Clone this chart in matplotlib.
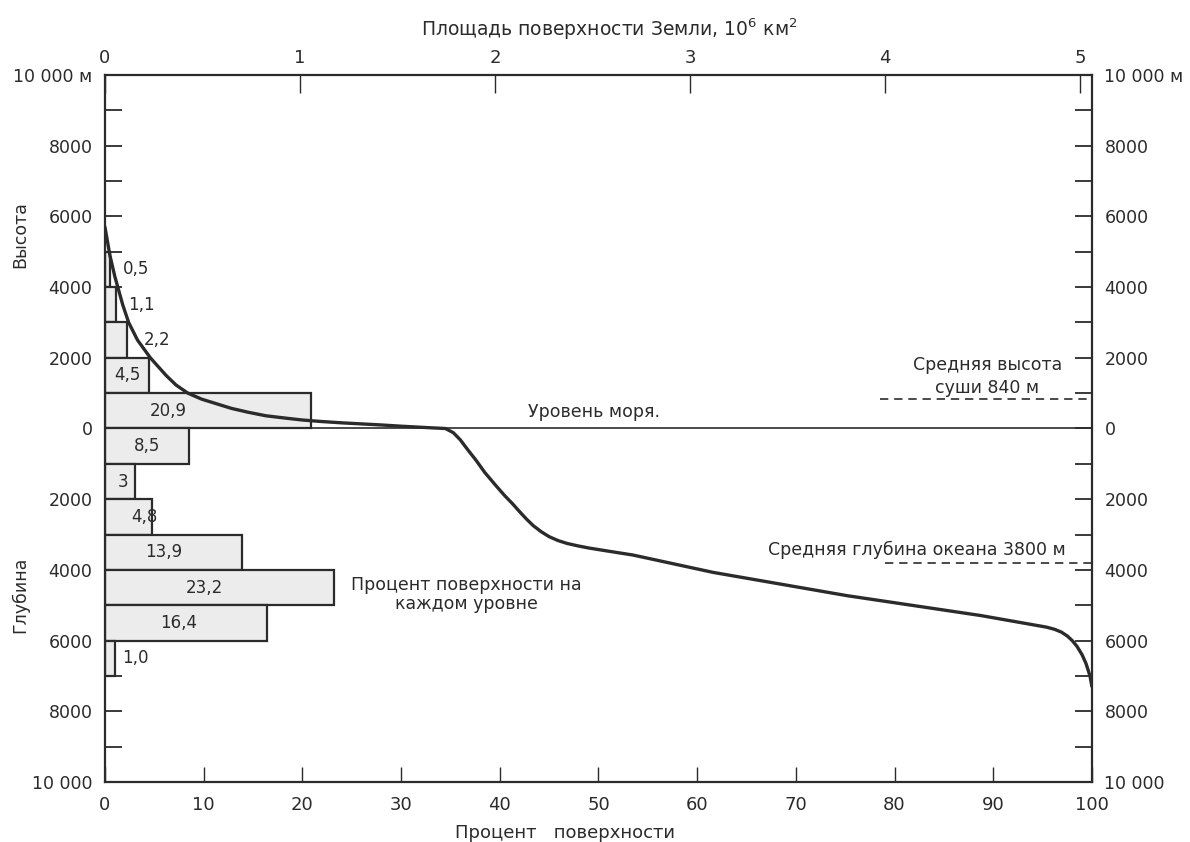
import matplotlib
matplotlib.use('Agg')
import matplotlib.pyplot as plt
from matplotlib.ticker import MultipleLocator, FixedLocator, FuncFormatter

# percent of surface in each 1000 m band (band lower edge, m)
band_bottom = [4000, 3000, 2000, 1000, 0, -1000, -2000, -3000, -4000, -5000, -6000, -7000]
band_pct = [0.5, 1.1, 2.2, 4.5, 20.9, 8.5, 3.0, 4.8, 13.9, 23.2, 16.4, 1.0]
band_text = ['0,5', '1,1', '2,2', '4,5', '20,9', '8,5', '3', '4,8', '13,9', '23,2', '16,4', '1,0']

# hypsographic curve: cumulative percent of surface vs elevation (m)
curve_pct = [0.0, 0.5, 1.0, 1.3, 1.8, 2.4, 3.3, 4.6, 5.3, 6.2, 7.2, 8.4, 9.8, 11.3, 12.8,
             14.5, 16.3, 18.4, 20.0, 21.8, 24.0, 26.0, 28.0, 30.0, 33.0, 34.5,
             35.3, 36.0, 36.7, 37.6, 38.5, 39.5, 40.5, 41.3,
             42.0, 42.7, 43.4, 44.2, 45.0, 45.9, 46.8, 47.9, 49.0, 51.0, 53.5, 61.6,
             75.2, 88.7, 95.4, 96.2, 96.9, 97.5, 98.0, 98.5, 99.0, 99.4, 99.8, 100.0]
curve_elev = [5700, 4900, 4300, 4000, 3500, 3000, 2500, 2000, 1780, 1500, 1230, 1000, 830, 700, 570,
              460, 360, 290, 240, 200, 160, 130, 100, 65, 20, 0,
              -120, -320, -580, -900, -1250, -1580, -1900, -2130,
              -2350, -2560, -2750, -2920, -3060, -3170, -3250, -3320, -3380, -3470, -3580, -4070,
              -4730, -5290, -5620, -5680, -5760, -5870, -6000, -6170, -6400, -6650, -7000, -7300]

mean_land = 840
mean_ocean = -3800
earth_area = 5.06  # top scale value at 100 %

top_ticks = [0, 1, 2, 3, 4, 5]
bottom_ticks = [0, 10, 20, 30, 40, 50, 60, 70, 80, 90, 100]

ink = '#2b2b2b'
plt.rcParams['font.family'] = ['DejaVu Sans']
plt.rcParams['text.color'] = ink
plt.rcParams['mathtext.default'] = 'regular'

fig = plt.figure(figsize=(11.9, 8.42), dpi=100)
ax = fig.add_axes([0.0882, 0.0713, 0.8294, 0.8396])

# bars
ax.barh([b + 500 for b in band_bottom], band_pct, height=1000, left=0,
        color='#ececec', edgecolor=ink, linewidth=1.6, zorder=2)

# bar labels (x position in % chosen per bar, outside for the narrow ones)
label_x = [1.8, 2.3, 3.9, 2.3, 6.4, 4.3, 1.8, 4.0, 5.9, 10.1, 7.5, 1.7]
label_out = [True, True, True, False, False, False, False, False, False, False, False, True]
for b, t, lx, out in zip(band_bottom, band_text, label_x, label_out):
    ax.text(lx, b + 500, t, fontsize=12, ha='left' if out else 'center', va='center',
            color=ink, zorder=4)

# sea level
ax.plot([0, 100], [0, 0], color=ink, lw=1.2, zorder=3)
ax.text(49.5, 480, 'Уровень моря.', fontsize=12.5, ha='center', va='center')

# curve
ax.plot(curve_pct, curve_elev, color=ink, lw=2.4, zorder=5, solid_capstyle='round',
        solid_joinstyle='round')

# mean levels
ax.plot([78.5, 100], [mean_land, mean_land], color=ink, lw=1.2, ls=(0, (5, 3.5)))
ax.text(89.4, 1480, 'Средняя высота\nсуши 840 м', fontsize=12.5, ha='center', va='center',
        linespacing=1.35)
ax.plot([79, 100], [mean_ocean, mean_ocean], color=ink, lw=1.2, ls=(0, (5, 3.5)))
ax.text(82.3, -3430, 'Средняя глубина океана 3800 м', fontsize=12.5, ha='center', va='center')

ax.text(36.6, -4700, 'Процент поверхности на\nкаждом уровне', fontsize=12.5,
        ha='center', va='center', linespacing=1.1)

# axes
ax.set_xlim(0, 100)
ax.set_ylim(-10000, 10000)
for s in ax.spines.values():
    s.set_linewidth(1.6)
    s.set_color(ink)


def elev_fmt(v, pos):
    if v >= 10000:
        return '10 000 м'
    if v <= -10000:
        return '10 000'
    return str(abs(int(round(v))))


ax.yaxis.set_major_locator(MultipleLocator(2000))
ax.yaxis.set_minor_locator(MultipleLocator(1000))
ax.yaxis.set_major_formatter(FuncFormatter(elev_fmt))
ax.tick_params(axis='y', which='both', direction='in', length=12, width=1.3,
               left=True, right=True, labelleft=True, labelright=True,
               labelsize=12.5, colors=ink, pad=9)

ax.xaxis.set_major_locator(FixedLocator(bottom_ticks))
ax.tick_params(axis='x', which='both', direction='in', length=11, width=1.0,
               top=False, labelsize=13, colors=ink, pad=10)

top = ax.secondary_xaxis('top', functions=(lambda x: x * earth_area / 100,
                                            lambda a: a * 100 / earth_area))
top.set_xticks(top_ticks)
top.tick_params(direction='in', length=13, width=1.0, labelsize=13, colors=ink, pad=6)
top.spines['top'].set_visible(False)

fig.text(0.512, 0.965, 'Площадь поверхности Земли, 10$^6$ км$^2$', fontsize=13.5,
         ha='center', va='center')
fig.text(0.475, 0.011, 'Процент   поверхности', fontsize=13, ha='center', va='center')
fig.text(0.017, 1 - 235 / 842, 'Высота', fontsize=12.5, rotation=90, ha='center', va='center')
fig.text(0.017, 1 - 595 / 842, 'Глубина', fontsize=12.5, rotation=90, ha='center', va='center')

fig.savefig('out.png', dpi=100, facecolor='white')
